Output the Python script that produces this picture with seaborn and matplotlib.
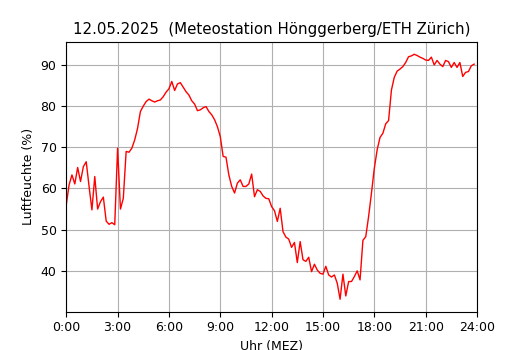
"""Relative humidity over one day, Hönggerberg weather station"""

import numpy as np
import matplotlib
matplotlib.use("Agg")
import matplotlib.pyplot as plt
import pandas as pd
import seaborn as sns


TITLE = "12.05.2025  (Meteostation Hönggerberg/ETH Zürich)"
X_LABEL = "Uhr (MEZ)"
Y_LABEL = "Luftfeuchte (%)"

# 10-minute readings, 0:00 .. 23:50
humidity = [
    56.0, 60.9, 63.3, 61.1, 65.1, 61.7, 65.3, 66.5, 60.5, 54.8, 62.9, 55.0,
    56.8, 57.9, 52.1, 51.3, 51.7, 51.2, 69.8, 55.0, 57.6, 69.0, 68.8, 69.8,
    71.8, 74.6, 78.7, 80.0, 81.1, 81.7, 81.3, 81.0, 81.3, 81.5, 82.3, 83.4,
    84.2, 86.0, 83.8, 85.4, 85.7, 84.6, 83.5, 82.7, 81.3, 80.5, 78.9, 79.1,
    79.6, 79.9, 78.7, 77.9, 76.7, 75.0, 72.6, 67.8, 67.6, 63.3, 60.5, 58.9,
    61.3, 62.1, 60.5, 60.5, 61.1, 63.5, 58.0, 59.7, 59.3, 58.2, 57.6, 57.5,
    55.6, 54.6, 52.0, 55.2, 49.5, 48.2, 47.7, 45.7, 46.9, 42.0, 47.1, 42.7,
    42.3, 43.3, 39.8, 41.6, 40.2, 39.4, 39.2, 41.1, 39.0, 38.5, 39.0, 37.0,
    33.1, 39.2, 33.9, 37.4, 37.4, 38.6, 40.0, 37.8, 47.4, 48.3, 53.2, 58.9,
    64.9, 69.4, 72.4, 73.4, 75.7, 76.5, 83.9, 87.0, 88.5, 89.0, 89.6, 90.6,
    92.0, 92.2, 92.6, 92.3, 91.9, 91.6, 91.2, 91.1, 91.9, 90.0, 91.1, 90.2,
    89.6, 91.1, 90.8, 89.4, 90.6, 89.4, 90.6, 87.2, 88.2, 88.4, 89.8, 90.2,
]

tick_hours = [0, 3, 6, 9, 12, 15, 18, 21, 24]
tick_labels = [f"{h}:00" for h in tick_hours]


def main() -> None:
    data = pd.DataFrame({
        "hour": np.arange(len(humidity)) / 6.0,
        "humidity": humidity,
    })

    plt.rcParams["font.size"] = 9

    fig, ax = plt.subplots(figsize=(5.3, 3.5), dpi=100)
    sns.lineplot(data=data, x="hour", y="humidity", color="red", linewidth=1, ax=ax)

    ax.set_xlim(0, 24)
    ax.set_xticks(tick_hours)
    ax.set_xticklabels(tick_labels)
    ax.set_yticks([40, 50, 60, 70, 80, 90])
    ax.grid(True)
    ax.set_title(TITLE, fontsize=10.8)
    ax.set_xlabel(X_LABEL)
    ax.set_ylabel(Y_LABEL)

    fig.savefig("out.png", dpi=100)
    plt.close(fig)


if __name__ == "__main__":
    main()
